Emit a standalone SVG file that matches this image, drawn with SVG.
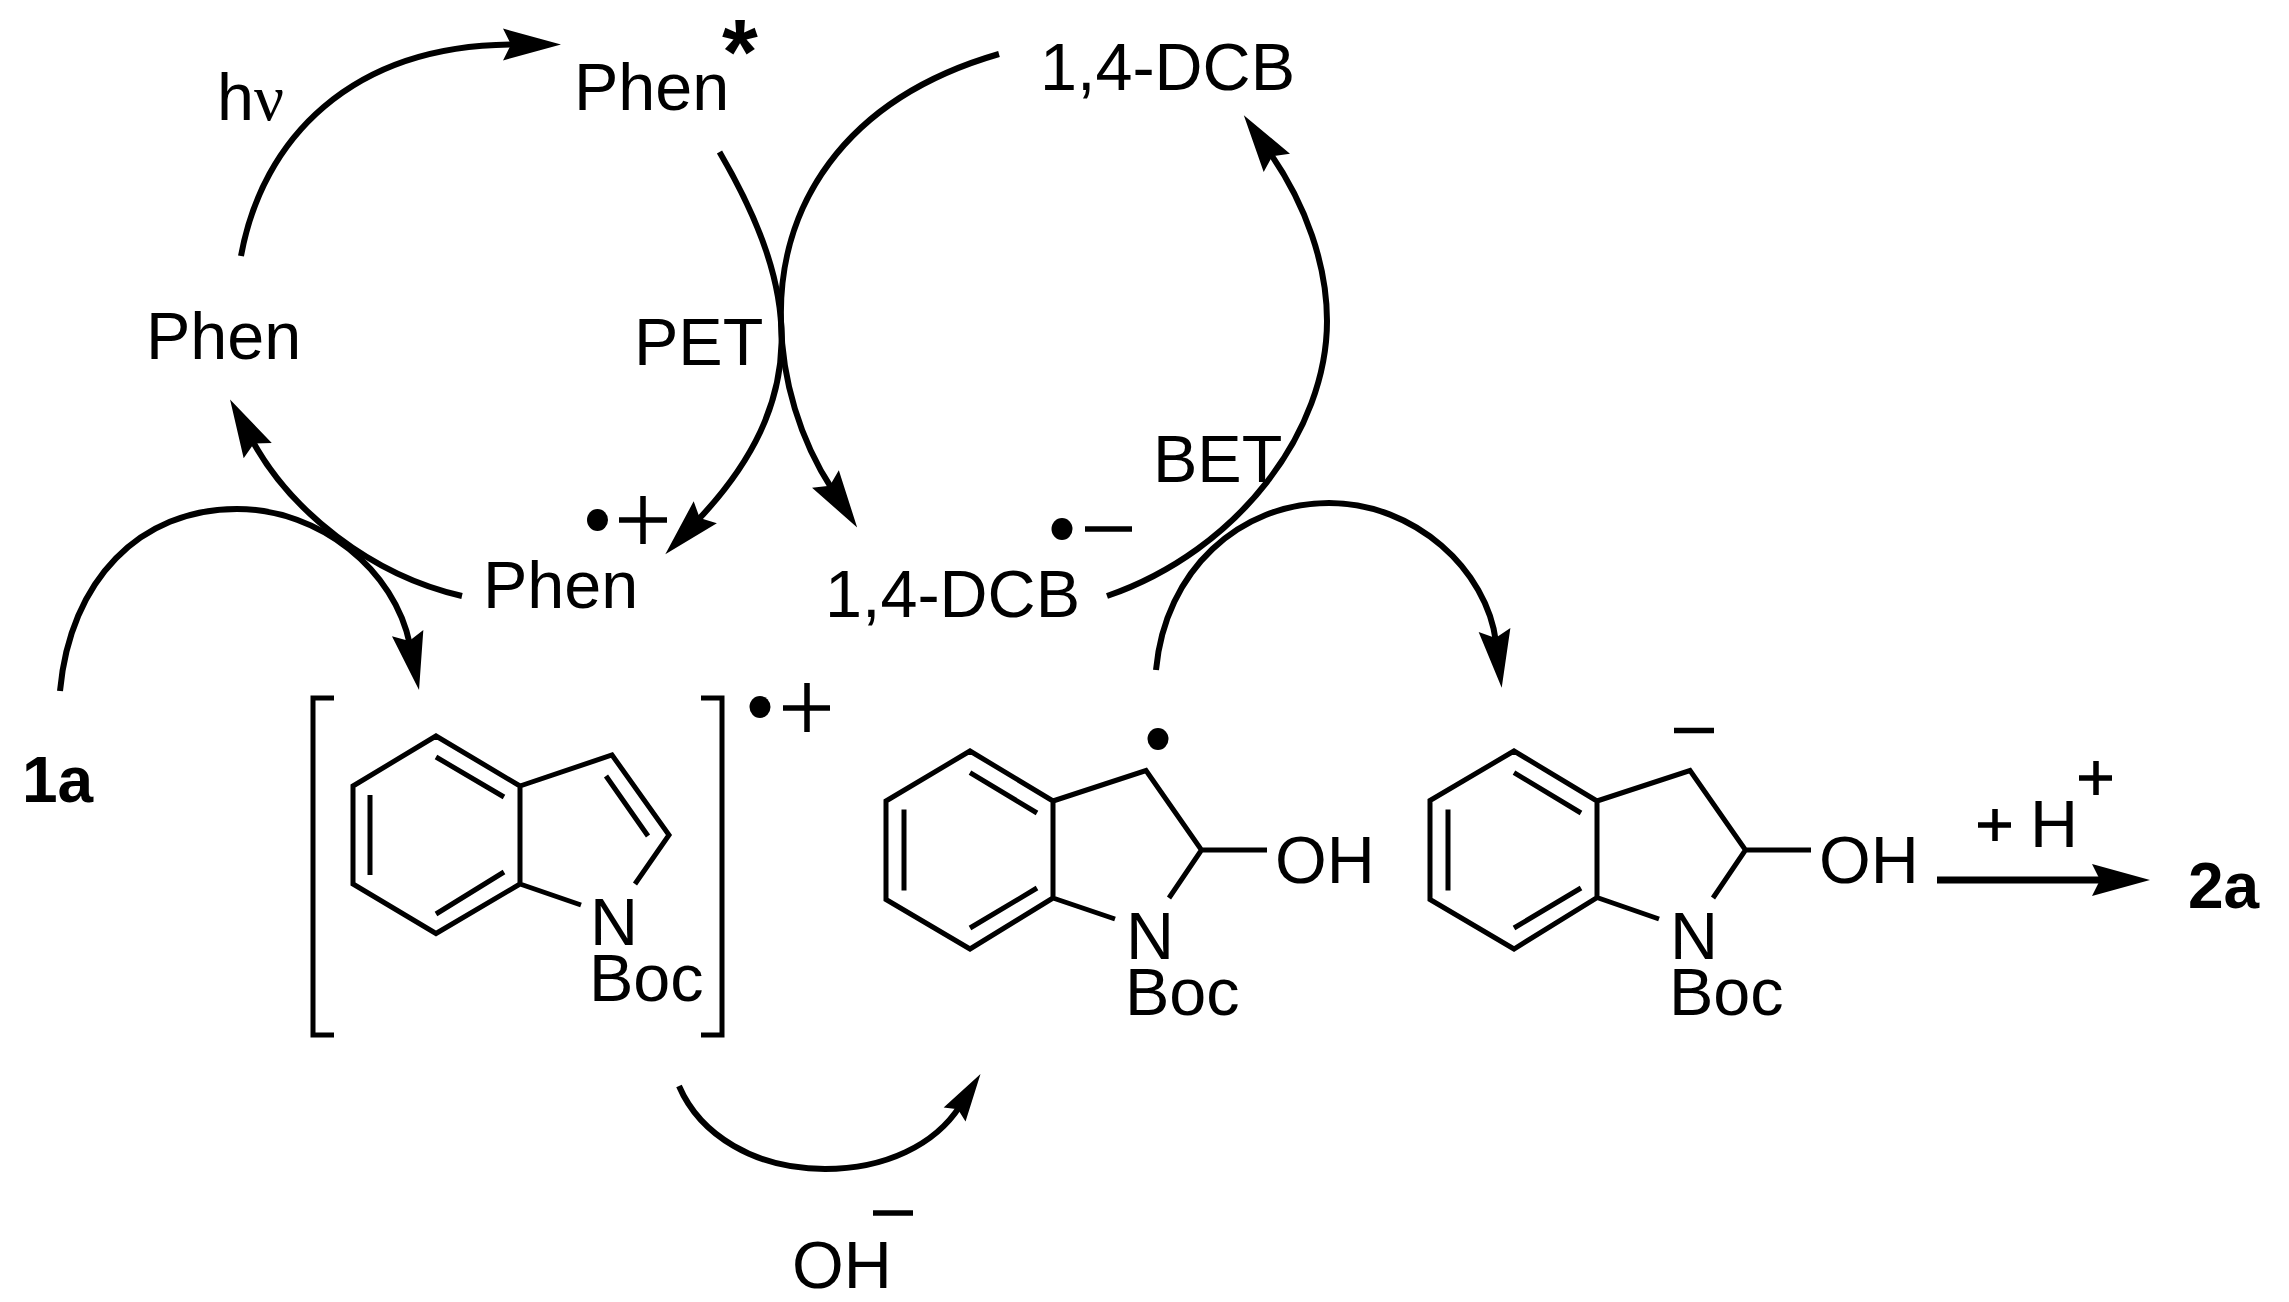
<svg xmlns="http://www.w3.org/2000/svg" width="2289" height="1302" viewBox="0 0 2289 1302">
<style>
text{font-family:"Liberation Sans",Arial,sans-serif;font-size:66.5px;fill:#000}
.b{font-weight:bold;font-size:64px}
.star{font-size:92px;font-weight:bold}
.bond{fill:none;stroke:#000;stroke-width:5}
.arc{fill:none;stroke:#000;stroke-width:6;marker-end:url(#head)}
.sym{fill:none;stroke:#000;stroke-width:5.5}
</style>
<defs>
<marker id="head" markerUnits="userSpaceOnUse" markerWidth="70" markerHeight="40" refX="4" refY="20" orient="auto" overflow="visible"><polygon points="0,20 -8,4 50,20 -8,36"/></marker>
<marker id="headS" markerUnits="userSpaceOnUse" markerWidth="70" markerHeight="40" refX="4" refY="20" orient="auto" overflow="visible"><polygon points="0,20 -6,7 42,20 -6,33"/></marker>
</defs>
<rect width="2289" height="1302" fill="#fff"/>
<g id="connectors">
<path class="arc" d="M241,256C262,140 350,44.5 515,44.5"/>
<path class="arc" d="M719.5,152C800,290 812,400 697,521"/>
<path class="arc" d="M999,54C840,100 778,210 781,321C782,380 800,440 832,489"/>
<path class="arc" d="M462,596C370,575 290,510 252,440"/>
<path class="arc" d="M60,691C70,580 140,509 237,509C320,509 395,570 410,645"/>
<path class="arc" d="M1107,596C1240,550 1327,430 1327,321C1327,265 1306,205 1270,153"/>
<path class="arc" d="M1156,670C1165,570 1240,503 1329,503C1415,503 1487,570 1496,642"/>
<path class="arc" style="marker-end:url(#headS)" d="M679,1086C700,1135 755,1169 825,1169C885,1169 935,1145 960,1106"/>
<path class="arc" style="stroke-width:7" d="M1937,880H2104"/>
</g>
<g id="hv"><text x="217" y="120">h<tspan font-family="Liberation Serif">ν</tspan></text></g>
<g id="phen-star"><text x="574" y="110">Phen</text><text class="star" x="722" y="84">*</text></g>
<g id="dcb-top"><text x="1040" y="90">1,4-DCB</text></g>
<g id="phen"><text x="146" y="359">Phen</text></g>
<g id="pet"><text x="634" y="365">PET</text></g>
<g id="bet"><text x="1153" y="482">BET</text></g>
<g id="phen-radical-cation"><text x="483" y="608">Phen</text><ellipse cx="597.5" cy="520" rx="10.5" ry="11"/><path class="sym" d="M619,520H667M643,496V544"/></g>
<g id="dcb-radical-anion"><text x="825" y="617">1,4-DCB</text><ellipse cx="1062" cy="529" rx="10.5" ry="11"/><path class="sym" d="M1085,529H1132"/></g>
<g id="label-1a"><text class="b" x="22" y="802">1a</text></g>
<g id="indole-radical-cation">
<path class="bond" d="M334,698H313V1035H334M701,698H722V1035H701"/>
<ellipse cx="760" cy="707" rx="10.5" ry="11"/><path class="sym" d="M783,708H830M807,683V732"/>
<path class="bond" d="M436,736L353,786V884L436,933.5L520,884V786ZM520,786L612,755L669,835L635,884M520,884L581,905M436,757L504,797M370,795V875M436,914L504,872M606,776L648,836"/>
<text x="590" y="945">N<tspan x="589" y="1001">Boc</tspan></text>
</g>
<g id="hydroxyindoline-radical">
<path class="bond" d="M970,751L886,801V899.5L970,949L1053,898V801ZM1053,801L1146,770.5L1201.5,850L1169,898M1053,898L1115,919M970,772.6L1037,813M904,809.5V890.5M970,928L1037,888M1201.5,850H1267"/>
<ellipse cx="1158" cy="739" rx="10.5" ry="11"/>
<text x="1275" y="883">OH</text><text x="1126" y="959">N<tspan x="1125" y="1015">Boc</tspan></text>
</g>
<g id="hydroxyindoline-anion">
<path class="bond" d="M1514,751L1430,800.5V899.5L1514,949L1597,897.5V801ZM1597,801L1690,770.5L1745.5,850L1713,898M1597,897.5L1659,919M1514,772.6L1581,813M1448,809.5V890.5M1514,928L1581,888M1745.5,850H1811"/>
<path class="sym" d="M1674,730.5H1714"/>
<text x="1819" y="883">OH</text><text x="1670" y="959">N<tspan x="1669" y="1015">Boc</tspan></text>
</g>
<g id="proton"><path class="sym" d="M1978,825H2011M1995,809V841M2079,778H2112M2096,761V795"/><text x="2030" y="847">H</text></g>
<g id="label-2a"><text class="b" x="2188" y="908">2a</text></g>
<g id="hydroxide"><text x="792" y="1288">OH</text><path class="sym" d="M873,1213H913"/></g>
</svg>
